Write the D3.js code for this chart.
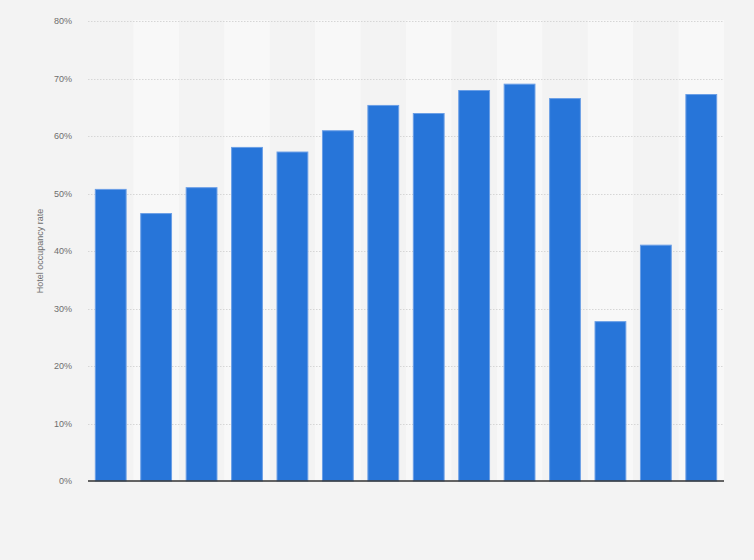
<!DOCTYPE html>
<html>
<head>
<meta charset="utf-8">
<script src="https://cdn.jsdelivr.net/npm/d3@7"></script>
<style>
  html, body { margin: 0; padding: 0; background: #f3f3f3; }
  svg { display: block; font-family: "Liberation Sans", Arial, sans-serif; }
  .tick-label { fill: #6e6e6e; font-size: 9px; }
  .axis-title { fill: #6e6e6e; font-size: 9px; }
</style>
</head>
<body>
<svg id="chart" width="754" height="560"></svg>
<script>
// bar slots (the reference shows no x labels, so these are only keys)
const categories = ['b1', 'b2', 'b3', 'b4', 'b5', 'b6', 'b7', 'b8', 'b9', 'b10', 'b11', 'b12', 'b13', 'b14'];
const occupancy = [50.8, 46.6, 51.1, 58.1, 57.3, 61.0, 65.4, 64.0, 68.0, 69.1, 66.6, 27.8, 41.1, 67.3];
const yTicks = [0, 10, 20, 30, 40, 50, 60, 70, 80];

const svg = d3.select('#chart');
const margin = { top: 21, right: 30, bottom: 79, left: 88 };
const width = 754 - margin.left - margin.right;
const height = 560 - margin.top - margin.bottom;

const x = d3.scaleBand().domain(categories).range([0, width]).paddingInner(0.3).paddingOuter(0.15);
const xBand = d3.scaleBand().domain(categories).range([0, width]);
const y = d3.scaleLinear().domain([0, 80]).range([height, 0]);

const g = svg.append('g').attr('transform', `translate(${margin.left},${margin.top})`);

// alternating column bands
g.append('g')
  .selectAll('rect')
  .data(categories.filter((d, i) => i % 2 === 1))
  .join('rect')
  .attr('x', (d) => xBand(d))
  .attr('y', -1)
  .attr('width', xBand.bandwidth())
  .attr('height', height + 1)
  .attr('fill', '#f8f8f8');

// grid lines
g.append('g')
  .selectAll('line')
  .data(yTicks.filter((d) => d > 0))
  .join('line')
  .attr('x1', 0)
  .attr('x2', width)
  .attr('y1', (d) => Math.round(y(d)) + 0.5)
  .attr('y2', (d) => Math.round(y(d)) + 0.5)
  .attr('stroke', '#d6d6d6')
  .attr('stroke-dasharray', '1.5,1.5');

// y labels
g.append('g')
  .selectAll('text')
  .data(yTicks)
  .join('text')
  .attr('class', 'tick-label')
  .attr('x', -16)
  .attr('y', (d) => y(d))
  .attr('dy', '0.35em')
  .attr('text-anchor', 'end')
  .text((d) => `${d}%`);

// bars
g.append('g')
  .selectAll('rect')
  .data(occupancy)
  .join('rect')
  .attr('x', (d, i) => x(categories[i]) + 0.5)
  .attr('y', (d) => y(d) + 0.5)
  .attr('width', x.bandwidth() - 1)
  .attr('height', (d) => height - y(d) - 0.5)
  .attr('fill', '#2775d9')
  .attr('stroke', '#6b9fe6')
  .attr('stroke-width', 1);

// baseline
g.append('line')
  .attr('x1', 0)
  .attr('x2', width)
  .attr('y1', y(0))
  .attr('y2', y(0))
  .attr('stroke', '#333')
  .attr('stroke-width', 1.4);

// y axis title
svg.append('text')
  .attr('class', 'axis-title')
  .attr('transform', `translate(43,${margin.top + height / 2}) rotate(-90)`)
  .attr('text-anchor', 'middle')
  .text('Hotel occupancy rate');
</script>
</body>
</html>
